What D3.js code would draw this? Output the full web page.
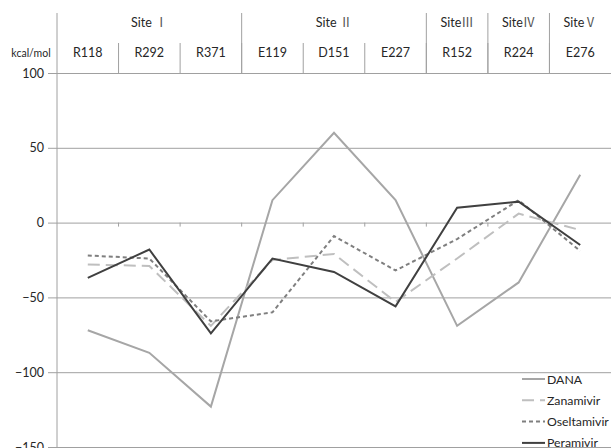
<!DOCTYPE html>
<html>
<head>
<meta charset="utf-8">
<script src="https://cdn.jsdelivr.net/npm/d3@7"></script>
<style>
  body { margin: 0; background: #fff; }
  svg text { font-family: Lato, "Open Sans", sans-serif; fill: #262626; }
  .numeral { font-family: "Noto Sans CJK SC", serif; }
</style>
</head>
<body>
<svg id="chart" width="611" height="448"></svg>
<script>
// residues along the x axis, grouped into sites
const residues = ["R118", "R292", "R371", "E119", "D151", "E227", "R152", "R224", "E276"];
const sites = [
  { name: "Site ", num: "\u2160", from: 0, to: 3 },
  { name: "Site ", num: "\u2161", from: 3, to: 6 },
  { name: "Site", num: "\u2162", from: 6, to: 7 },
  { name: "Site", num: "\u2163", from: 7, to: 8 },
  { name: "Site", num: "\u2164", from: 8, to: 9 }
];
const yTicks = [100, 50, 0, -50, -100, -150];

// kcal/mol values
const dana       = [-72, -87, -123, 15, 60, 15, -69, -40, 32];
const zanamivir  = [-28, -29, -69, -25, -21, -53, -24, 6, -5];
const oseltamivir = [-22, -24, -66, -60, -9, -32, -11, 15, -19];
const peramivir  = [-37, -18, -74, -24, -33, -56, 10, 14, -15];

const series = [
  { name: "DANA", values: dana, color: "#a6a6a6", dash: null },
  { name: "Zanamivir", values: zanamivir, color: "#bfbfbf", dash: "12,6" },
  { name: "Oseltamivir", values: oseltamivir, color: "#7f7f7f", dash: "4,3" },
  { name: "Peramivir", values: peramivir, color: "#404040", dash: null }
];

const svg = d3.select("#chart");
const mLeft = 57, mRight = 611, mTop = 73, mBottom = 447;
const axisColor = "#a0a0a0";

const x = d3.scaleBand().domain(residues).range([mLeft, mRight]);
const y = d3.scaleLinear().domain([-150, 100]).range([mBottom, mTop]);

// horizontal gridlines with left ticks
svg.append("g")
  .attr("transform", "translate(" + mLeft + ",0)")
  .call(d3.axisLeft(y).tickValues(yTicks).tickSize(9).tickPadding(4))
  .call(g => g.select(".domain").remove())
  .call(g => g.selectAll(".tick line").attr("stroke", axisColor))
  .call(g => g.selectAll(".tick").append("line")
    .attr("x1", 0).attr("x2", mRight - mLeft).attr("stroke", axisColor))
  .call(g => g.selectAll(".tick text").style("font-size", "12.5px").attr("fill", "#1a1a1a"));

// vertical axis line
svg.append("line")
  .attr("x1", mLeft).attr("x2", mLeft).attr("y1", 13).attr("y2", mBottom)
  .attr("stroke", axisColor);

// category axis ticks on the zero line
svg.append("g").selectAll("line")
  .data(residues.slice(1))
  .join("line")
  .attr("x1", d => x(d)).attr("x2", d => x(d))
  .attr("y1", y(0)).attr("y2", y(0) + 4)
  .attr("stroke", axisColor);

// header: residue cells
const header = svg.append("g");
header.selectAll("line.res")
  .data(residues.slice(1))
  .join("line")
  .attr("class", "res")
  .attr("x1", d => x(d)).attr("x2", d => x(d))
  .attr("y1", 43).attr("y2", mTop)
  .attr("stroke", axisColor);
header.selectAll("text.res")
  .data(residues)
  .join("text")
  .attr("class", "res")
  .attr("x", d => x(d) + x.bandwidth() / 2)
  .attr("y", 57)
  .attr("text-anchor", "middle")
  .style("font-size", "12.5px")
  .text(d => d);

// header: site cells
header.selectAll("line.site")
  .data(sites.slice(1))
  .join("line")
  .attr("class", "site")
  .attr("x1", d => x(residues[d.from])).attr("x2", d => x(residues[d.from]))
  .attr("y1", 13).attr("y2", mTop)
  .attr("stroke", axisColor);
const siteText = header.selectAll("text.site")
  .data(sites)
  .join("text")
  .attr("class", "site")
  .attr("x", d => (x(residues[d.from]) + x(residues[d.to - 1]) + x.bandwidth()) / 2)
  .attr("y", 27)
  .attr("text-anchor", "middle")
  .style("font-size", "12.5px");
siteText.append("tspan").text(d => d.name);
siteText.append("tspan").attr("class", "numeral").attr("fill", "#555").text(d => d.num);

svg.append("text")
  .attr("x", 31).attr("y", 57)
  .attr("text-anchor", "middle")
  .style("font-size", "10.5px")
  .attr("fill", "#404040")
  .text("kcal/mol");

// lines
const line = d3.line()
  .x((d, i) => x(residues[i]) + x.bandwidth() / 2)
  .y(d => y(d));

svg.append("g").selectAll("path")
  .data(series)
  .join("path")
  .attr("d", d => line(d.values))
  .attr("fill", "none")
  .attr("stroke", d => d.color)
  .attr("stroke-width", 2)
  .attr("stroke-dasharray", d => d.dash);

// legend
const legend = svg.append("g").attr("transform", "translate(522,379)");
const item = legend.selectAll("g")
  .data(series)
  .join("g")
  .attr("transform", (d, i) => "translate(0," + i * 21.3 + ")");
item.append("line")
  .attr("x1", 0).attr("x2", 23)
  .attr("stroke", d => d.color)
  .attr("stroke-width", 2)
  .attr("stroke-dasharray", d => d.dash);
item.append("text")
  .attr("x", 25).attr("y", 4.5)
  .style("font-size", "12.3px")
  .text(d => d.name);
</script>
</body>
</html>
